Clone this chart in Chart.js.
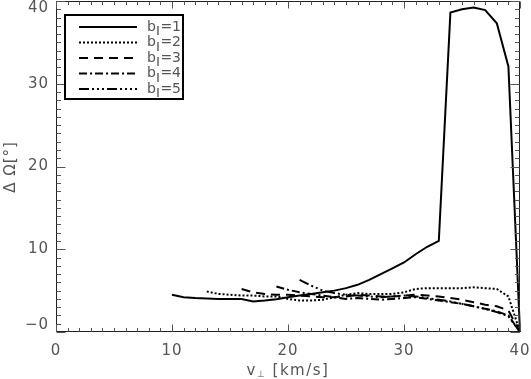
<!DOCTYPE html>
<html><head><meta charset="utf-8">
<script src="https://cdn.jsdelivr.net/npm/chart.js@4"></script>
<style>html,body{margin:0;padding:0;background:#fff;}canvas{display:block;}</style>
</head><body>
<canvas id="c" width="531" height="379"></canvas>
<script>
// ---- data ----
const xTicks = [0, 10, 20, 30, 40];
const yTicks = [0, 10, 20, 30, 40];
const xTickLabels = ['0', '10', '20', '30', '40'];
const yTickLabels = ['\u22120', '10', '20', '30', '40'];
const seriesNames = ['1', '2', '3', '4', '5']; // b‖ values

const x1 = [10,11,12,13,14,15,16,17,18,19,20,21,22,23,24,25,26,27,28,29,30,31,32,33,34,35,36,37,38,39,40];
const y1 = [4.5,4.2,4.1,4.05,4.0,4.0,4.0,3.7,3.8,3.95,4.2,4.4,4.6,4.8,5.0,5.3,5.7,6.3,7.0,7.7,8.4,9.4,10.3,11.0,38.6,39.0,39.2,38.9,37.3,32.1,0];

const x2 = [13,14,15,16,17,18,19,20,21,22,23,24,25,26,27,28,29,30,31,32,33,34,35,36,37,38,39,40];
const y2 = [4.9,4.6,4.5,4.4,4.4,4.3,4.3,4.0,3.8,3.8,3.9,4.2,4.5,4.7,4.6,4.6,4.6,4.8,5.2,5.3,5.3,5.3,5.3,5.4,5.3,5.2,4.3,0];

const x3 = [16,17,18,19,20,21,22,23,24,25,26,27,28,29,30,31,32,33,34,35,36,37,38,39,40];
const y3 = [5.2,4.8,4.6,4.5,4.5,4.4,4.3,4.2,4.2,4.3,4.5,4.4,4.3,4.3,4.4,4.5,4.4,4.3,4.1,3.9,3.6,3.3,3.1,2.6,0];

const x4 = [19,20,21,22,23,24,25,26,27,28,29,30,31,32,33,34,35,36,37,38,39,40];
const y4 = [5.5,5.1,4.8,4.6,4.4,4.2,4.0,4.1,4.0,3.9,4.0,4.1,4.2,4.0,3.8,3.6,3.4,3.1,2.8,2.5,2.0,0];

const x5 = [21,22,23,24,25,26,27,28,29,30,31,32,33,34,35,36,37,38,39,40];
const y5 = [6.3,5.6,5.0,4.7,4.5,4.4,4.3,4.2,4.3,4.4,4.3,4.1,3.9,3.7,3.4,3.1,2.8,2.4,1.9,0];

const dashes = [[], [2, 2], [9, 6], [8, 3, 2, 3], [10, 3, 2, 3, 2, 3, 2, 3]];
const seriesX = [x1, x2, x3, x4, x5];
const seriesY = [y1, y2, y3, y4, y5];

const datasets = seriesX.map((xs, i) => ({
  label: 'b=' + seriesNames[i],
  data: xs.map((x, k) => ({x: x, y: seriesY[i][k]})),
  borderColor: '#000',
  borderWidth: 2,
  borderDash: dashes[i],
  pointRadius: 0,
  fill: false,
  tension: 0,
  clip: false
}));

const TXT = '#555';
const FONT = '"DejaVu Sans", "Liberation Sans", sans-serif';

const framePlugin = {
  id: 'idlFrame',
  afterDraw(chart) {
    const ctx = chart.ctx;
    const xs = chart.scales.x, ys = chart.scales.y;
    const a = chart.chartArea;
    const L = Math.round(a.left) + 0.5, R = Math.round(a.right) - 0.5;
    const T = Math.round(a.top) + 0.5, B = Math.round(a.bottom) - 0.5;
    ctx.save();
    ctx.strokeStyle = '#222';
    ctx.lineWidth = 1;
    ctx.beginPath();
    ctx.rect(L, T, R - L, B - T);
    ctx.stroke();
    ctx.strokeStyle = '#555';
    ctx.beginPath();
    for (let v = 0; v <= 40; v++) {
      const major = v % 10 === 0;
      const px = Math.round(xs.getPixelForValue(v)) + 0.5;
      const lx = major ? 7 : 3.5;
      ctx.moveTo(px, B); ctx.lineTo(px, B - lx);
      ctx.moveTo(px, T); ctx.lineTo(px, T + lx);
      const py = Math.round(ys.getPixelForValue(v)) + 0.5;
      const ly = major ? 9 : 4.5;
      ctx.moveTo(L, py); ctx.lineTo(L + ly, py);
      ctx.moveTo(R, py); ctx.lineTo(R - ly, py);
    }
    ctx.stroke();
    ctx.fillStyle = TXT;
    ctx.font = '15px ' + FONT;
    ctx.letterSpacing = '1px';
    ctx.textAlign = 'center';
    ctx.textBaseline = 'middle';
    xTicks.forEach((v, i) => {
      ctx.fillText(xTickLabels[i], xs.getPixelForValue(v), 351);
    });
    ctx.textAlign = 'right';
    yTicks.forEach((v, i) => {
      let py = ys.getPixelForValue(v);
      py = Math.min(Math.max(py, a.top + 7), a.bottom - 7);
      ctx.fillText(yTickLabels[i], 49, py);
    });
    // x title
    const xtParts = [['v', 15, 0], ['\u22a5', 9, 2], [' [km/s]', 15, 0]];
    ctx.textAlign = 'left';
    ctx.textBaseline = 'alphabetic';
    ctx.letterSpacing = '1.5px';
    let w = 0;
    xtParts.forEach(p => { ctx.font = p[1] + 'px ' + FONT; w += ctx.measureText(p[0]).width; });
    let cx = (xs.getPixelForValue(20)) - w / 2;
    xtParts.forEach(p => { ctx.font = p[1] + 'px ' + FONT; ctx.fillText(p[0], cx, 375 + p[2]); cx += ctx.measureText(p[0]).width; });
    // y title
    ctx.save();
    ctx.translate(15, 167);
    ctx.rotate(-Math.PI / 2);
    ctx.font = '15px ' + FONT;
    ctx.letterSpacing = '1px';
    ctx.textAlign = 'center';
    ctx.textBaseline = 'alphabetic';
    ctx.fillText('\u0394 \u03a9[\u00b0]', 0, 0);
    ctx.restore();
    // legend
    ctx.letterSpacing = '0px';
    const bx = 65, by = 15, bw = 118, bh = 84;
    ctx.fillStyle = '#fff';
    ctx.fillRect(bx, by, bw, bh);
    ctx.strokeStyle = '#000';
    ctx.lineWidth = 2;
    ctx.strokeRect(bx, by, bw, bh);
    const rows = [27, 42.5, 58, 73.5, 89];
    datasets.forEach((ds, i) => {
      ctx.save();
      ctx.strokeStyle = '#000';
      ctx.lineWidth = 2;
      ctx.setLineDash(ds.borderDash);
      ctx.beginPath();
      ctx.moveTo(79, rows[i]); ctx.lineTo(137, rows[i]);
      ctx.stroke();
      ctx.restore();
      ctx.fillStyle = TXT;
      ctx.textAlign = 'left';
      ctx.textBaseline = 'middle';
      let tx = 147;
      ctx.font = '14px ' + FONT;
      ctx.fillText('b', tx, rows[i]); tx += ctx.measureText('b').width;
      ctx.font = '8px ' + FONT;
      ctx.fillText('\u2016', tx, rows[i] + 4); tx += ctx.measureText('\u2016').width + 0.5;
      ctx.font = '14px ' + FONT;
      ctx.fillText('=' + seriesNames[i], tx, rows[i]);
    });
    ctx.restore();
  }
};

new Chart(document.getElementById('c'), {
  type: 'line',
  data: { datasets: datasets },
  options: {
    responsive: false,
    animation: false,
    events: [],
    layout: { padding: { left: 56, right: 11, top: 1, bottom: 47 } },
    plugins: { legend: { display: false }, title: { display: false }, tooltip: { enabled: false } },
    scales: {
      x: { type: 'linear', min: 0, max: 40, display: false },
      y: { type: 'linear', min: 0, max: 40, display: false }
    }
  },
  plugins: [framePlugin]
});
</script>
</body></html>
